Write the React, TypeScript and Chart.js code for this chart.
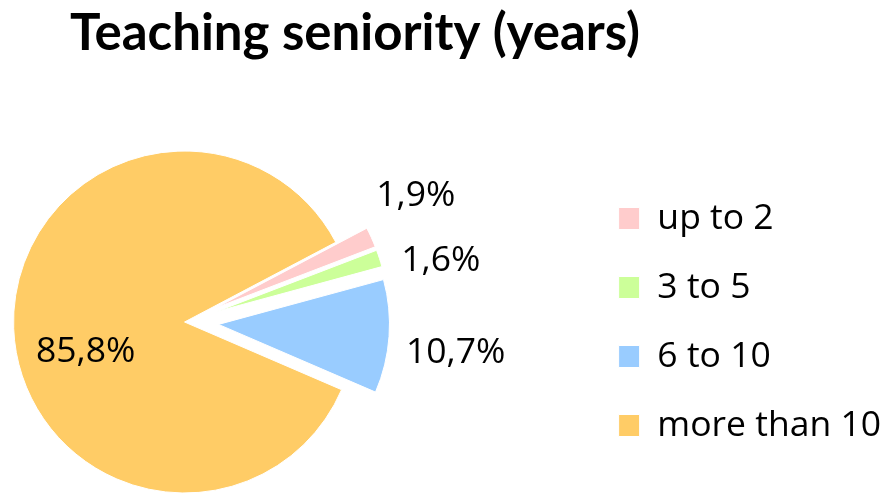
import React, { useEffect, useRef } from "react";
import { Chart, registerables } from "chart.js";

Chart.register(...registerables);

const titleText = "Teaching seniority (years)";
const categories = ["up to 2", "3 to 5", "6 to 10", "more than 10"];
const shares = [1.9, 1.6, 10.7, 85.8];
const shareLabels = ["1,9%", "1,6%", "10,7%", "85,8%"];
const sliceColors = ["#FFCCCC", "#CCFF99", "#99CCFF", "#FFCC66"];

// widens the plot area to the left so the pie sits left of centre
const areaPlugin = {
  id: "plotArea",
  afterLayout(chart: any, _args: any, opts: any) {
    const ca = chart.chartArea;
    const ext = opts.extendLeft || 0;
    ca.left -= ext;
    ca.width = ca.right - ca.left;
  },
};

const explodePlugin = {
  id: "explode",
  afterDatasetUpdate(chart: any, args: any, opts: any) {
    const dists: number[] = opts.distances || [];
    args.meta.data.forEach((arc: any, i: number) => {
      const d = dists[i] || 0;
      if (!d) return;
      const mid = (arc.startAngle + arc.endAngle) / 2;
      arc.x += d * Math.cos(mid);
      arc.y += d * Math.sin(mid);
    });
  },
};

const sliceLabelPlugin = {
  id: "sliceLabels",
  afterDatasetsDraw(chart: any, _args: any, opts: any) {
    const meta = chart.getDatasetMeta(0);
    const ctx = chart.ctx as CanvasRenderingContext2D;
    const labels: string[] = opts.labels;
    ctx.save();
    ctx.font = `${opts.size}px "${opts.family}"`;
    ctx.fillStyle = opts.color;
    const items = meta.data.map((arc: any, i: number) => {
      const mid0 = (arc.startAngle + arc.endAngle) / 2;
      const mid = Math.atan2(Math.sin(mid0), Math.cos(mid0));
      return {
        i,
        x: arc.x,
        y: arc.y,
        r: arc.outerRadius,
        angle: mid,
        inside: arc.circumference > Math.PI,
      };
    });
    const outs = items.filter((it: any) => !it.inside);
    const minSep = (opts.minSeparation * Math.PI) / 180;
    for (let k = 0; k < outs.length - 1; k++) {
      const a = outs[k];
      const b = outs[k + 1];
      if (Math.sign(Math.sin(a.angle)) !== Math.sign(Math.sin(b.angle))) continue;
      if (Math.abs(b.angle - a.angle) < minSep) {
        const m = (a.angle + b.angle) / 2;
        const dir = b.angle >= a.angle ? 1 : -1;
        a.angle = m - (dir * minSep) / 2;
        b.angle = m + (dir * minSep) / 2;
      }
    }
    items.forEach((it: any) => {
      const text = labels[it.i];
      const m = ctx.measureText(text);
      if (it.inside) {
        const ang = it.angle + (opts.insideAngleShift * Math.PI) / 180;
        const cx = it.x + it.r * opts.insideFraction * Math.cos(ang);
        const cy = it.y + it.r * opts.insideFraction * Math.sin(ang);
        ctx.textAlign = "center";
        ctx.textBaseline = "middle";
        ctx.fillText(text, cx, cy);
      } else {
        const ax = it.x + (it.r + opts.gap) * Math.cos(it.angle);
        const ay = it.y + (it.r + opts.gap) * Math.sin(it.angle);
        ctx.textAlign = Math.cos(it.angle) >= 0 ? "left" : "right";
        ctx.textBaseline = "alphabetic";
        const by =
          Math.sin(it.angle) > 0
            ? ay + m.actualBoundingBoxAscent
            : ay - m.actualBoundingBoxDescent;
        ctx.fillText(text, ax, by);
      }
    });
    ctx.restore();
  },
};

const titlePlugin = {
  id: "fixedTitle",
  afterDraw(chart: any, _args: any, opts: any) {
    const ctx = chart.ctx as CanvasRenderingContext2D;
    ctx.save();
    ctx.font = `bold ${opts.size}px "${opts.family}"`;
    ctx.fillStyle = opts.color;
    ctx.textAlign = "center";
    ctx.textBaseline = "alphabetic";
    ctx.fillText(opts.text, opts.x, opts.y);
    ctx.restore();
  },
};

export default function App() {
  const ref = useRef<HTMLCanvasElement | null>(null);
  useEffect(() => {
    if (!ref.current) return;
    const chart = new Chart(ref.current, {
      type: "pie",
      data: {
        labels: categories,
        datasets: [
          {
            data: shares,
            backgroundColor: sliceColors,
            borderColor: "#ffffff",
            borderWidth: 1,
          },
        ],
      },
      plugins: [areaPlugin, explodePlugin, sliceLabelPlugin, titlePlugin],
      options: {
        animation: false,
        responsive: true,
        maintainAspectRatio: false,
        events: [],
        radius: 171,
        rotation: 62.2,
        layout: { padding: { top: 151, bottom: 0, left: 0, right: 0 } },
        plugins: {
          tooltip: { enabled: false },
          title: { display: false },
          legend: {
            display: true,
            position: "right",
            align: "center",
            labels: {
              font: { family: "Open Sans", size: 35.5 },
              color: "#000000",
              boxWidth: 21,
              boxHeight: 22,
              padding: 33.5,
            },
          },
          plotArea: { extendLeft: 216 },
          explode: { distances: [34, 34, 34, 0] },
          sliceLabels: {
            labels: shareLabels,
            family: "Open Sans",
            size: 35.5,
            color: "#000000",
            gap: 17,
            minSeparation: 20,
            insideFraction: 0.605,
            insideAngleShift: -14.8,
          },
          fixedTitle: {
            text: titleText,
            family: "Lato",
            size: 51,
            color: "#000000",
            x: 355,
            y: 50,
          },
        } as any,
      },
    } as any);
    return () => chart.destroy();
  }, []);
  return (
    <div style={{ position: "absolute", left: 0, top: 0, width: 891, height: 493, background: "#fff" }}>
      <canvas ref={ref} />
    </div>
  );
}
